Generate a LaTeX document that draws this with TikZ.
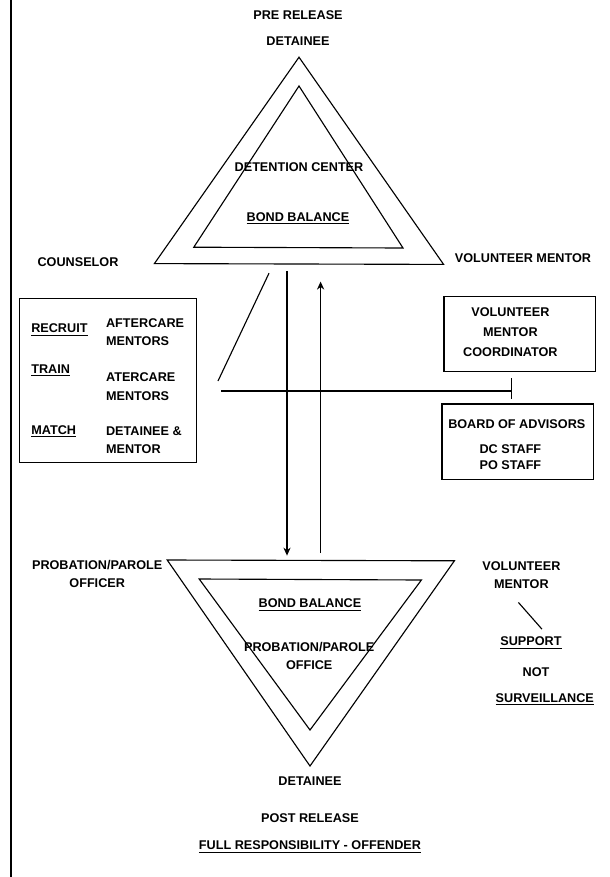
\documentclass[tikz,border=0pt]{standalone}
\usepackage{fontspec}
\setmainfont{Liberation Sans}
\usepackage{tikz}
\usetikzlibrary{arrows.meta, positioning}

\begin{document}
\begin{tikzpicture}[
    every node/.style={font=\bfseries\fontsize{9}{13}\selectfont, inner sep=0pt},
    lbl/.style={align=center},
    lftlbl/.style={align=left, anchor=west},
    box/.style={draw, line width=0.8pt},
    tri/.style={draw, line width=0.8pt, line join=miter},
    conn/.style={line width=0.8pt},
    arrow/.style={-{Stealth[length=2mm, width=1.8mm]}, line width=0.8pt}
]
\useasboundingbox (0,0) rectangle (15.25,-21.925);

% BORDER
\draw[line width=2.1pt] (0.275,0) -- (0.275,-21.925);

% PRE RELEASE TRIANGLE
\coordinate (preapex)  at (7.475,-1.43);
\coordinate (preleft)  at (3.86,-6.59);
\coordinate (preright) at (11.09,-6.61);
\coordinate (dcapex)   at (7.475,-2.15);
\coordinate (dcleft)   at (4.845,-6.18);
\coordinate (dcright)  at (10.075,-6.2);
\draw[tri] (preapex) -- (preleft) -- (preright) -- cycle;
\draw[tri] (dcapex) -- (dcleft) -- (dcright) -- cycle;

\node[lbl] (prerel) at (7.45,-0.375) {PRE RELEASE};
\node[lbl] (predet) at (7.45,-1.02)  {DETAINEE};
\node[lbl] (dc)     at (7.475,-4.17) {DETENTION CENTER};
\node[lbl] (dcbond) at (7.45,-5.46)  {\underline{BOND BALANCE}};
\node[lbl] (couns)  at (1.95,-6.56)  {COUNSELOR};
\node[lbl] (vmtop)  at (13.075,-6.46) {VOLUNTEER MENTOR};

% COUNSELOR TASKS
\node[box, minimum width=4.425cm, minimum height=4.11cm] (tasks) at (2.7,-9.515) {};
\node[lftlbl] (recruit) at (0.775,-8.25)  {\underline{RECRUIT}};
\node[lftlbl] (recwho)  at (2.645,-8.31)  {AFTERCARE\\MENTORS};
\node[lftlbl] (train)   at (0.775,-9.27)  {\underline{TRAIN}};
\node[lftlbl] (trwho)   at (2.645,-9.665) {ATERCARE\\MENTORS};
\node[lftlbl] (match)   at (0.775,-10.79) {\underline{MATCH}};
\node[lftlbl] (mawho)   at (2.645,-11.01) {DETAINEE \&\\MENTOR};

% MENTOR COORDINATION
\node[box, minimum width=3.78cm, minimum height=1.87cm] (vmc) at (12.99,-8.355) {};
\node[lbl, font=\bfseries\fontsize{9}{14}\selectfont] (vmctxt) at (12.76,-8.3) {VOLUNTEER\\MENTOR\\COORDINATOR};
\node[box, minimum width=3.785cm, minimum height=1.88cm] (board) at (12.9425,-11.04) {};
\node[lbl] (boardtxt) at (12.92,-10.6) {BOARD OF ADVISORS};
\node[lbl, font=\bfseries\fontsize{9}{12}\selectfont] (staff) at (12.76,-11.43) {DC STAFF\\PO STAFF};

% POST RELEASE TRIANGLE
\coordinate (postleft)  at (4.18,-14.0);
\coordinate (postright) at (11.36,-14.02);
\coordinate (postapex)  at (7.75,-19.15);
\coordinate (poleft)    at (4.98,-14.475);
\coordinate (poright)   at (10.535,-14.5);
\coordinate (poapex)    at (7.75,-18.25);
\draw[tri] (postleft) -- (postright) -- (postapex) -- cycle;
\draw[tri] (poleft) -- (poright) -- (poapex) -- cycle;

\node[lbl] (ppo)     at (2.43,-14.35)  {PROBATION/PAROLE\\OFFICER};
\node[lbl] (vmbot)   at (13.035,-14.385) {VOLUNTEER\\MENTOR};
\node[lbl] (pobond)  at (7.75,-15.125) {\underline{BOND BALANCE}};
\node[lbl] (po)      at (7.73,-16.4)   {PROBATION/PAROLE\\OFFICE};
\node[lbl] (postdet) at (7.75,-19.54)  {DETAINEE};
\node[lbl] (postrel) at (7.75,-20.46)  {POST RELEASE};
\node[lbl] (full)    at (7.75,-21.17)  {\underline{FULL RESPONSIBILITY - OFFENDER}};
\node[lbl] (support) at (13.275,-16.07) {\underline{SUPPORT}};
\node[lbl] (notlbl)  at (13.4,-16.81)  {NOT};
\node[lbl] (surv)    at (13.62,-17.48) {\underline{SURVEILLANCE}};

% CONNECTORS
\coordinate (dnstart) at (7.175,-6.77);
\coordinate (dnend)   at (7.175,-13.89);
\coordinate (upstart) at (8.015,-13.83);
\coordinate (upend)   at (8.015,-7.04);
\coordinate (slhigh)  at (6.725,-6.83);
\coordinate (sllow)   at (5.45,-9.525);
\coordinate (hlstart) at (5.525,-9.775);
\coordinate (tickmid) at (12.79,-9.775);
\coordinate (tickhi)  at (12.79,-9.45);
\coordinate (ticklo)  at (12.79,-9.975);
\coordinate (vmslhi)  at (12.96,-15.06);
\coordinate (vmsllo)  at (13.55,-15.73);

\draw[arrow] (dnstart) -- (dnend);
\draw[arrow] (upstart) -- (upend);
\draw[conn] (slhigh) -- (sllow);
\draw[conn] (hlstart) -- (tickmid);
\draw[conn] (tickhi) -- (ticklo);
\draw[conn] (vmslhi) -- (vmsllo);

\end{tikzpicture}
\end{document}
